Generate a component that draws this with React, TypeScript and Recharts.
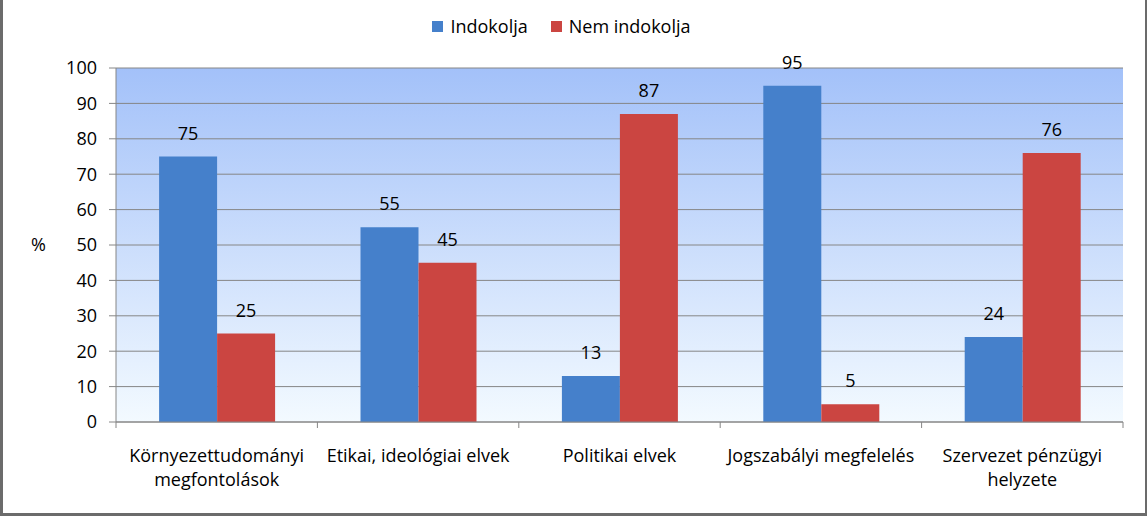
import { BarChart, Bar, XAxis, YAxis, CartesianGrid, Legend, LabelList } from "recharts";

const categories = [
  "Környezettudományi\nmegfontolások",
  "Etikai, ideológiai elvek",
  "Politikai elvek",
  "Jogszabályi megfelelés",
  "Szervezet pénzügyi\nhelyzete",
];
const indokolja = [75, 55, 13, 95, 24];
const nemIndokolja = [25, 45, 87, 5, 76];
const yTicks = [0, 10, 20, 30, 40, 50, 60, 70, 80, 90, 100];

const data = categories.map((name, i) => ({
  name,
  indokolja: indokolja[i],
  nemIndokolja: nemIndokolja[i],
}));

const BLUE = "#4580CB";
const RED = "#CB4541";
const GRID = "#868686";
const FONT = "'Open Sans', sans-serif";

// category label plus the tick marks Excel puts on the band edges
function CategoryTick({ x, y, payload, index, visibleTicksCount, width }: any) {
  const lines = String(payload.value).split("\n");
  const half = payload.offset || width / visibleTicksCount / 2;
  return (
    <g>
      <line x1={x - half} x2={x - half} y1={y} y2={y + 6} stroke={GRID} />
      {index === visibleTicksCount - 1 && <line x1={x + half} x2={x + half} y1={y} y2={y + 6} stroke={GRID} />}
      <text x={x} y={y} textAnchor="middle" fontSize={18} fill="#000" fontFamily={FONT}>
        {lines.map((line, i) => (
          <tspan key={i} x={x} dy={i === 0 ? 40 : 24}>
            {line}
          </tspan>
        ))}
      </text>
    </g>
  );
}

function LegendContent({ payload }: any) {
  return (
    <div style={{ display: "flex", justifyContent: "center", gap: 23, fontSize: 18, fontFamily: FONT }}>
      {(payload || []).map((p: any) => (
        <div key={p.value} style={{ display: "flex", alignItems: "center" }}>
          <span style={{ width: 11, height: 11, background: p.color, marginRight: 7, display: "inline-block" }} />
          <span style={{ color: "#000" }}>{p.value}</span>
        </div>
      ))}
    </div>
  );
}

export default function App() {
  return (
    <div style={{ position: "relative", width: 1147, height: 516, fontFamily: FONT, background: "#fff" }}>
      <style>{"body{margin:0}"}</style>
      <svg width={0} height={0} style={{ position: "absolute" }}>
        <defs>
          <linearGradient id="plotBg" x1="0" y1="0" x2="0" y2="1">
            <stop offset="0%" stopColor="#A3C1F9" />
            <stop offset="100%" stopColor="#F3FAFF" />
          </linearGradient>
        </defs>
      </svg>
      <BarChart
        width={1147}
        height={516}
        data={data}
        margin={{ top: 44, right: 24, left: 0, bottom: 0 }}
        barCategoryGap="21.4%"
        barGap={0}
      >
        <CartesianGrid vertical={false} stroke={GRID} fill="url(#plotBg)" fillOpacity={1} />
        <XAxis
          dataKey="name"
          height={94}
          axisLine={{ stroke: GRID }}
          tickLine={false}
          tickSize={0}
          tickMargin={0}
          tick={<CategoryTick />}
          interval={0}
        />
        <YAxis
          domain={[0, 100]}
          ticks={yTicks}
          width={116}
          tickSize={7}
          tickMargin={12}
          tickLine={{ stroke: GRID }}
          axisLine={{ stroke: GRID }}
          tick={{ fontSize: 18, fill: "#000", fontFamily: FONT }}
          label={{ value: "%", position: "insideLeft", offset: 31, fontSize: 18, fill: "#000" }}
        />
        <Legend verticalAlign="top" align="center" content={<LegendContent />} wrapperStyle={{ top: 14 }} />
        <Bar dataKey="indokolja" name="Indokolja" fill={BLUE} isAnimationActive={false}>
          <LabelList dataKey="indokolja" position="top" offset={17} fontSize={18} fill="#000" fontFamily={FONT} />
        </Bar>
        <Bar dataKey="nemIndokolja" name="Nem indokolja" fill={RED} isAnimationActive={false}>
          <LabelList dataKey="nemIndokolja" position="top" offset={17} fontSize={18} fill="#000" fontFamily={FONT} />
        </Bar>
      </BarChart>
      <div
        style={{
          position: "absolute",
          inset: 0,
          borderLeft: "3px solid #6b6b6b",
          borderRight: "2px solid #6b6b6b",
          borderBottom: "3px solid #6b6b6b",
          pointerEvents: "none",
        }}
      />
    </div>
  );
}
